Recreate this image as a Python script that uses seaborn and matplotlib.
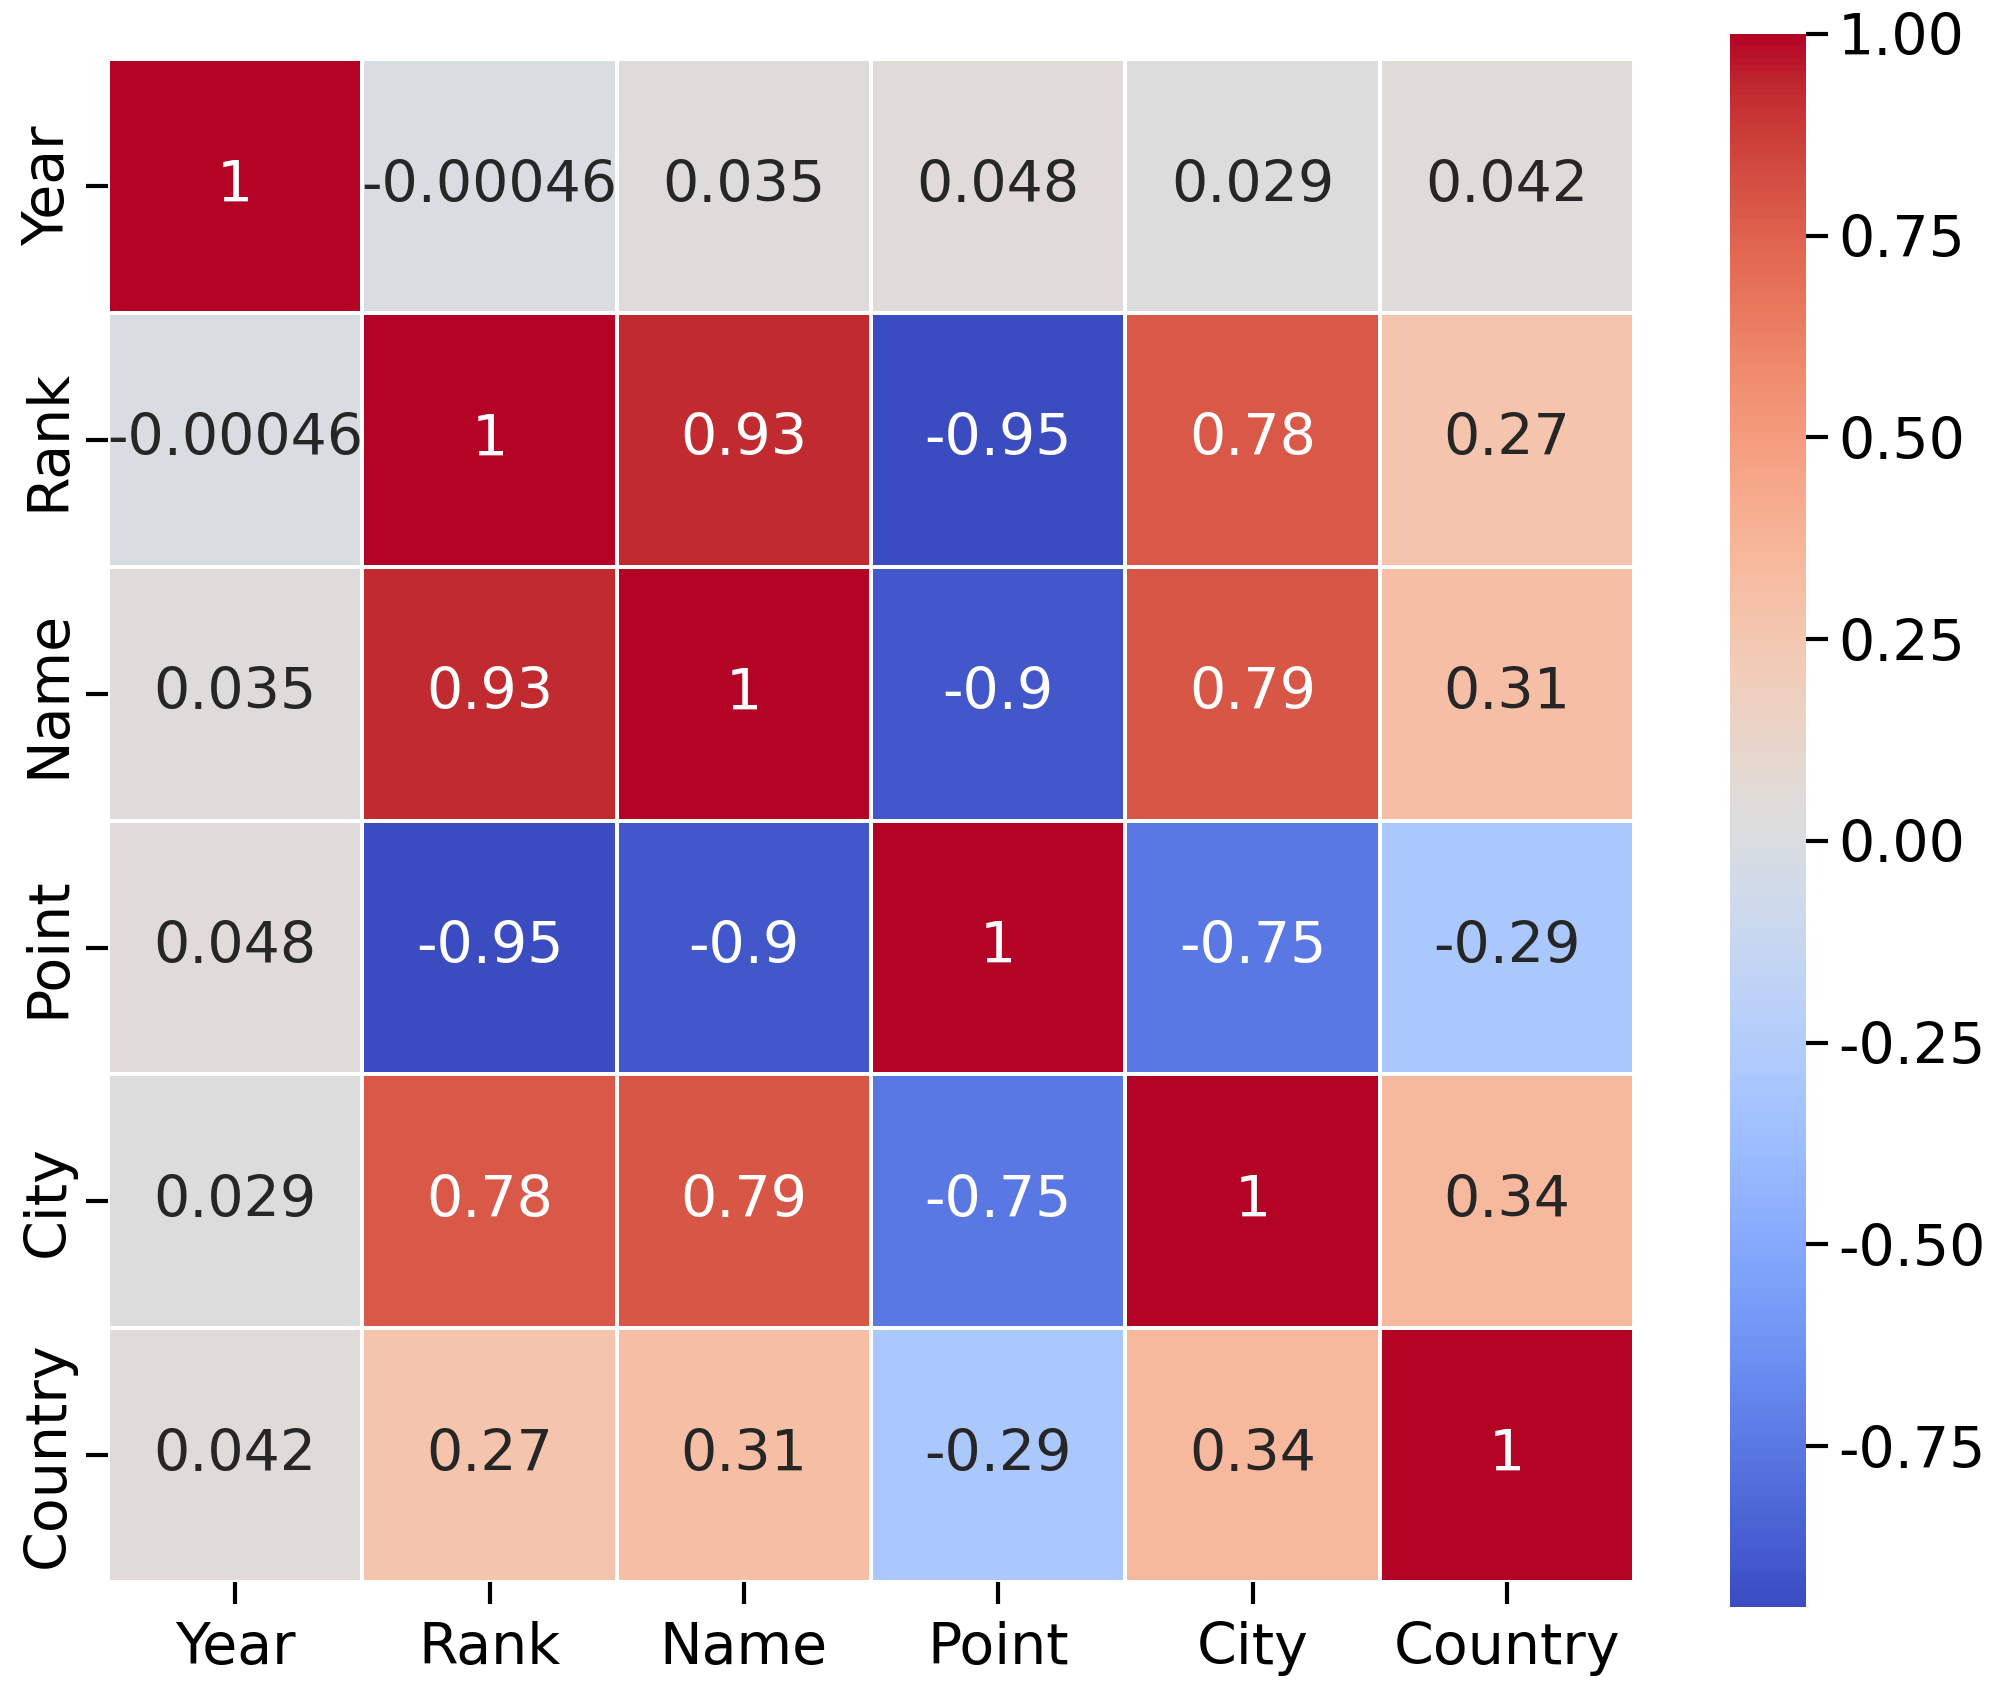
import numpy as np
import pandas as pd
import matplotlib
matplotlib.use("Agg")
import matplotlib.pyplot as plt
import seaborn as sns

labels = ["Year", "Rank", "Name", "Point", "City", "Country"]

# correlation values
year_col = [1, -0.00046, 0.035, 0.048, 0.029, 0.042]
rank_col = [-0.00046, 1, 0.93, -0.95, 0.78, 0.27]
name_col = [0.035, 0.93, 1, -0.9, 0.79, 0.31]
point_col = [0.048, -0.95, -0.9, 1, -0.75, -0.29]
city_col = [0.029, 0.78, 0.79, -0.75, 1, 0.34]
country_col = [0.042, 0.27, 0.31, -0.29, 0.34, 1]

corr = pd.DataFrame(
    np.array([year_col, rank_col, name_col, point_col, city_col, country_col]),
    index=labels, columns=labels)

sns.set_style("ticks")
plt.rcParams["font.family"] = ["DejaVu Sans"]

fig = plt.figure(figsize=(10, 8.46), dpi=200)
ax = fig.add_axes([0.054, 0.065, 0.763, 0.9])
cax = fig.add_axes([0.865, 0.05, 0.038, 0.93])

sns.heatmap(corr, annot=True, cmap="coolwarm", linewidths=0.8, linecolor="white",
            ax=ax, cbar_ax=cax, annot_kws={"size": 20.5})

ax.tick_params(axis="both", labelsize=20.5, length=8, width=1.5,
               colors="black", bottom=True, left=True)
ax.tick_params(axis="x", pad=6)
cax.tick_params(labelsize=20.5, length=8, width=1.5, colors="black", right=True)
cax.set_yticks([-0.75, -0.5, -0.25, 0, 0.25, 0.5, 0.75, 1.0])
cax.set_yticklabels(["-0.75", "-0.50", "-0.25", "0.00", "0.25", "0.50", "0.75", "1.00"])
for sp in cax.spines.values():
    sp.set_visible(False)

fig.savefig("out.png", dpi=200)
